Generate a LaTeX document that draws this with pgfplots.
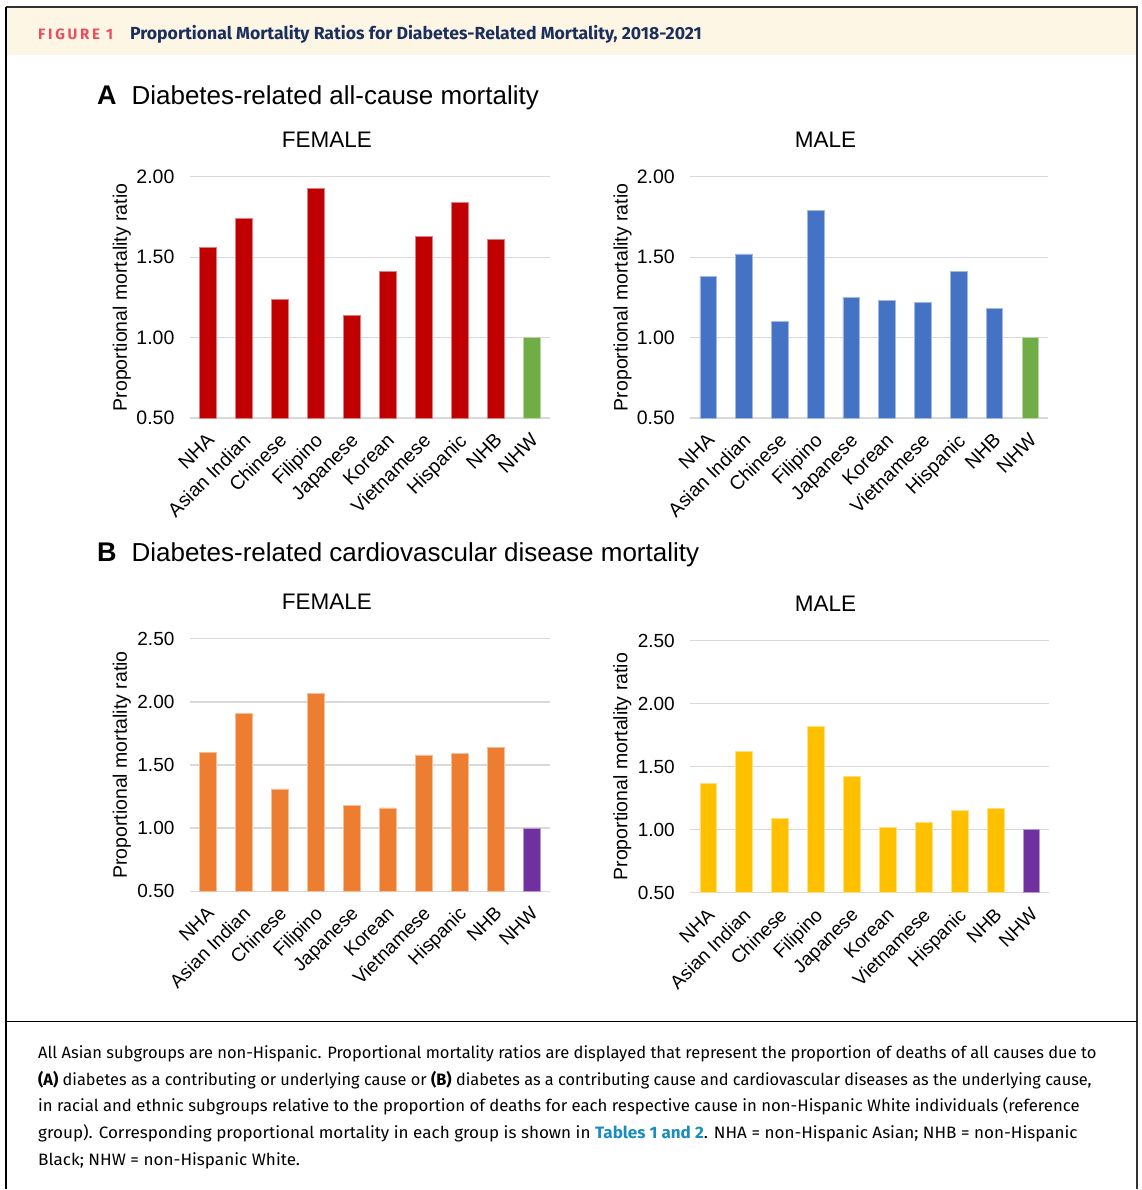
\documentclass[border=0pt]{standalone}
\usepackage{pgfplots}
\pgfplotsset{compat=1.18}
\usepackage{fontspec}
\setmainfont{Liberation Sans}
\newfontfamily\fira{Fira Sans}
\newfontfamily\firaspaced[LetterSpace=18]{Fira Sans}
\definecolor{cred}{HTML}{C00000}
\definecolor{cblue}{HTML}{4472C4}
\definecolor{cgreen}{HTML}{70AD47}
\definecolor{corange}{HTML}{ED7D31}
\definecolor{cyellow}{HTML}{FFC000}
\definecolor{cpurple}{HTML}{7030A0}
\definecolor{gridgray}{HTML}{D9D9D9}
\definecolor{hdrbeige}{HTML}{FDF6E4}
\definecolor{figcoral}{HTML}{EE4B5E}
\definecolor{hdrnavy}{HTML}{1B2F5E}
\definecolor{linkteal}{HTML}{1A8CBF}
\newcommand{\fs}[1]{\fontsize{#1bp}{#1bp}\selectfont}
\pgfplotsset{
  pmr/.style={
    scale only axis,
    ybar, bar shift=0pt, bar width=16.7bp,
    xmin=-0.5, xmax=9.5, xtick={0,...,9},
    xticklabels={NHA,Asian Indian,Chinese,Filipino,Japanese,Korean,Vietnamese,Hispanic,NHB,NHW},
    axis line style={draw=none}, major tick length=0pt,
    ymajorgrids, grid style={draw=gridgray, line width=1.2bp},
    /pgf/number format/assume math mode=true,
    yticklabel style={/pgf/number format/fixed, /pgf/number format/fixed zerofill, /pgf/number format/precision=2, anchor=east, xshift=-12bp},
    x tick label style={xshift=-2bp, yshift=-14bp, rotate=45, anchor=north east, inner sep=0pt},
    every axis y label/.style={at={(axis description cs:-0.189,0.5)}, rotate=90, anchor=center},
    ylabel={Proportional mortality ratio},
    label style={font=\fs{19.5}},
  },
  pmrA/.style={pmr, ymin=0.5, ymax=2.0, ytick={0.5,1,1.5,2},
    tick label style={font=\fs{19.5}}},
  pmrB/.style={pmr, ymin=0.5, ymax=2.5, ytick={0.5,1,1.5,2,2.5},
    tick label style={font=\fs{19}}},
}
\begin{document}
\begin{tikzpicture}
\path (0bp,0bp) rectangle (1142bp,1190bp);
% header and frame
\fill[hdrbeige] (7bp,1182bp) rectangle (1137bp,1135bp);
\draw[black!80, line width=1.5bp] (6bp,1183bp) -- (1137.5bp,1183bp) -- (1137.5bp,0bp);
\draw[black, line width=1.5bp] (6bp,1183bp) -- (6bp,0bp);
\draw[black, line width=1.5bp] (6bp,168bp) -- (1137.5bp,168bp);
\node[anchor=base west, inner sep=0pt, text=figcoral] at (38bp,1150.5bp) {\firaspaced\bfseries\fs{15}FIGURE 1};
\node[anchor=base west, inner sep=0pt, text=hdrnavy] at (130bp,1150.5bp) {\resizebox{572bp}{\height}{\fira\bfseries\fs{17.5}Proportional Mortality Ratios for Diabetes-Related Mortality, 2018-2021}};
% panel titles
\node[anchor=base west, inner sep=0pt] at (97bp,1085.5bp) {\fs{27}\bfseries A};
\node[anchor=base west, inner sep=0pt] at (131.5bp,1085.5bp) {\fs{26}Diabetes-related all-cause mortality};
\node[anchor=base, inner sep=0pt] at (327bp,1042bp) {\fs{22.5}FEMALE};
\node[anchor=base, inner sep=0pt] at (826bp,1042bp) {\fs{22.5}MALE};
\node[anchor=base west, inner sep=0pt] at (97bp,628bp) {\fs{27}\bfseries B};
\node[anchor=base west, inner sep=0pt] at (131.5bp,628bp) {\fs{26}Diabetes-related cardiovascular disease mortality};
\node[anchor=base, inner sep=0pt] at (327bp,580bp) {\fs{22.5}FEMALE};
\node[anchor=base, inner sep=0pt] at (826bp,578bp) {\fs{22.5}MALE};
% A female
\begin{axis}[pmrA, at={(190bp,771.7bp)}, anchor=south west, width=360bp, height=241.3bp]
\addplot[fill=cred, draw=cred!50!white, line width=0.6bp] coordinates {(0,1.56) (1,1.74) (2,1.24) (3,1.93) (4,1.14) (5,1.41) (6,1.63) (7,1.84) (8,1.61)};
\addplot[fill=cgreen, draw=cgreen!50!white, line width=0.6bp] coordinates {(9,1.00)};
\end{axis}
% A male
\begin{axis}[pmrA, at={(690.7bp,771.7bp)}, anchor=south west, width=358bp, height=241.5bp]
\addplot[fill=cblue, draw=cblue!50!white, line width=0.6bp] coordinates {(0,1.38) (1,1.52) (2,1.10) (3,1.79) (4,1.25) (5,1.23) (6,1.22) (7,1.41) (8,1.18)};
\addplot[fill=cgreen, draw=cgreen!50!white, line width=0.6bp] coordinates {(9,1.00)};
\end{axis}
% B female
\begin{axis}[pmrB, at={(190bp,298.3bp)}, anchor=south west, width=360bp, height=252.4bp]
\addplot[fill=corange, draw=corange!50!white, line width=0.6bp] coordinates {(0,1.60) (1,1.91) (2,1.31) (3,2.07) (4,1.18) (5,1.16) (6,1.58) (7,1.59) (8,1.64)};
\addplot[fill=cpurple, draw=cpurple!50!white, line width=0.6bp] coordinates {(9,1.00)};
\end{axis}
% B male
\begin{axis}[pmrB, at={(690.7bp,296.7bp)}, anchor=south west, width=359.3bp, height=252.3bp]
\addplot[fill=cyellow, draw=cyellow!50!white, line width=0.6bp] coordinates {(0,1.37) (1,1.62) (2,1.09) (3,1.82) (4,1.42) (5,1.02) (6,1.06) (7,1.15) (8,1.17)};
\addplot[fill=cpurple, draw=cpurple!50!white, line width=0.6bp] coordinates {(9,1.00)};
\end{axis}
% caption
\node[anchor=base west, inner sep=0pt, font=\fira\fs{16.5}] at (38bp,131bp) {\resizebox{1059bp}{\height}{All Asian subgroups are non-Hispanic. Proportional mortality ratios are displayed that represent the proportion of deaths of all causes due to}};
\node[anchor=base west, inner sep=0pt, font=\fira\fs{16.5}] at (38bp,104.3bp) {\resizebox{1054bp}{\height}{\textbf{(A)} diabetes as a contributing or underlying cause or \textbf{(B)} diabetes as a contributing cause and cardiovascular diseases as the underlying cause,}};
\node[anchor=base west, inner sep=0pt, font=\fira\fs{16.5}] at (38bp,77.6bp) {\resizebox{1042bp}{\height}{in racial and ethnic subgroups relative to the proportion of deaths for each respective cause in non-Hispanic White individuals (reference}};
\node[anchor=base west, inner sep=0pt, font=\fira\fs{16.5}] at (38bp,50.9bp) {\resizebox{1040bp}{\height}{group). Corresponding proportional mortality in each group is shown in \textcolor{linkteal}{\textbf{Tables 1 and 2}}. NHA = non-Hispanic Asian; NHB = non-Hispanic}};
\node[anchor=base west, inner sep=0pt, font=\fira\fs{16.5}] at (38bp,24.2bp) {\resizebox{262bp}{\height}{Black; NHW = non-Hispanic White.}};
\end{tikzpicture}
\end{document}
